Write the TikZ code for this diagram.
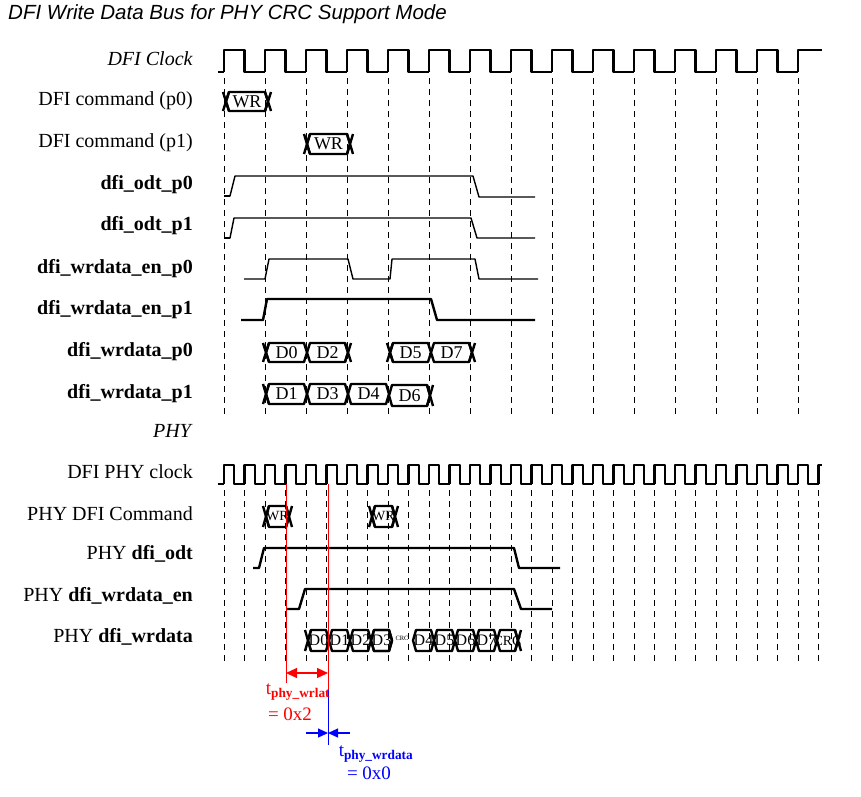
\documentclass[tikz,border=0pt]{standalone}
\usepackage{fontspec}
\setmainfont{Liberation Serif}
\newfontfamily\titlefont{Liberation Sans}
\usetikzlibrary{arrows.meta}
\newcommand{\busseg}[5]{%
  \draw[wave] (#1,{(#3+#4)/2})--(#1+3,#3)--(#2-3,#3)--(#2,{(#3+#4)/2})--(#2-3,#4)--(#1+3,#4)--cycle;
  \node[bus] at ({(#1+#2)/2},{(#3+#4)/2}) {#5};}
\newcommand{\busend}[3]{%
  \draw[wave] (#1,{(#2+#3)/2})--(#1-3,#2) (#1,{(#2+#3)/2})--(#1-3,#3)
    (#1,{(#2+#3)/2})--(#1+3,#2) (#1,{(#2+#3)/2})--(#1+3,#3);}
\begin{document}
\begin{tikzpicture}[x=1pt,y=-1pt,
  wave/.style={line width=2.4pt,line join=round},
  thinwave/.style={line width=1.4pt,line join=round},
  grid/.style={line width=0.7pt,dash pattern=on 6pt off 5pt},
  lbl/.style={anchor=east,font=\fontsize{20}{22}\selectfont,inner sep=0},
  bus/.style={font=\fontsize{18}{20}\selectfont,inner sep=0}]
\useasboundingbox (0,0) rectangle (861,796);
\node[anchor=west,font=\titlefont\itshape\fontsize{20.5}{22}\selectfont,inner sep=0] (title) at (8,14) {DFI Write Data Bus for PHY CRC Support Mode};
% labels
\node[lbl] (l1) at (193,59) {\textit{DFI Clock}};
\node[lbl] (l2) at (193,101) {DFI command (p0)};
\node[lbl] (l3) at (193,143) {DFI command (p1)};
\node[lbl] (l4) at (193,185) {\textbf{dfi\_odt\_p0}};
\node[lbl] (l5) at (193,226) {\textbf{dfi\_odt\_p1}};
\node[lbl] (l6) at (193,269) {\textbf{dfi\_wrdata\_en\_p0}};
\node[lbl] (l7) at (193,310) {\textbf{dfi\_wrdata\_en\_p1}};
\node[lbl] (l8) at (193,352) {\textbf{dfi\_wrdata\_p0}};
\node[lbl] (l9) at (193,394) {\textbf{dfi\_wrdata\_p1}};
\node[lbl] (l10) at (193,431) {\textit{PHY}};
\node[lbl] (l11) at (193,472) {DFI PHY clock};
\node[lbl] (l12) at (193,514) {PHY DFI Command};
\node[lbl] (l13) at (193,554) {PHY \textbf{dfi\_odt}};
\node[lbl] (l14) at (193,596) {PHY \textbf{dfi\_wrdata\_en}};
\node[lbl] (l15) at (193,637) {PHY \textbf{dfi\_wrdata}};
% grids
\foreach \k in {0,...,14} \draw[grid] (224+41*\k,78)--(224+41*\k,418);
\foreach \k in {0,...,29} \draw[grid] (224+20.5*\k,490)--(224+20.5*\k,665);
% DFI clock
\draw[wave] (218,72)--(224,72);
\foreach \k in {0,...,13} \draw[wave] (224+41*\k,72)--(224+41*\k,50)--(244.5+41*\k,50)--(244.5+41*\k,72)--(265+41*\k,72);
\draw[wave] (798,72)--(798,50)--(822,50);
% commands
\busseg{226}{268}{92}{111}{WR}\busend{226}{92}{111}\busend{268}{92}{111}
\busseg{307}{350}{134}{154}{WR}\busend{307}{134}{154}\busend{350}{134}{154}
% odt
\draw[thinwave] (224,196)--(230,196)--(235,176)--(473,176)--(479,197)--(535,197);
\draw[wave] (224,196)--(230,196);
\draw[thinwave] (224,238)--(230,238)--(234,218)--(471,218)--(477,238)--(535,238);
\draw[wave] (224,238)--(230,238);
\draw[thinwave] (244,279)--(265,279)--(269,259)--(348,259)--(353,279)--(390,279)--(392,259)--(475,259)--(479,279)--(538,279);
\draw[wave] (241,320)--(263,320)--(267,299)--(431,299)--(437,320)--(535,320);
% wrdata
\busseg{266}{307}{343}{362}{D0}\busseg{307}{348}{343}{362}{D2}
\busend{266}{343}{362}\busend{348}{343}{362}
\busseg{390}{431}{343}{362}{D5}\busseg{431}{472}{343}{362}{D7}
\busend{390}{343}{362}\busend{472}{343}{362}
\busseg{266}{307}{384}{404}{D1}\busseg{307}{348}{384}{404}{D3}
\busseg{348}{389}{384}{404}{D4}\busseg{389}{430}{385}{406}{D6}
\busend{266}{384}{404}\busend{430}{385}{406}
% PHY clock
\draw[wave] (218,484)--(224,484);
\foreach \k in {0,...,28} \draw[wave] (224+20.5*\k,484)--(224+20.5*\k,465)--(234.25+20.5*\k,465)--(234.25+20.5*\k,484)--(244.5+20.5*\k,484);
\draw[wave] (818.5,484)--(818.5,465)--(822,465);
% PHY cmd
\busseg{266}{289}{506}{527}{\fontsize{14}{15}\selectfont WR}\busend{266}{506}{527}\busend{289}{506}{527}
\busseg{372}{395}{506}{527}{\fontsize{14}{15}\selectfont WR}\busend{372}{506}{527}\busend{395}{506}{527}
% PHY odt / en
\draw[wave] (253,568)--(259,568)--(264,548)--(514,548)--(519,568)--(560,568);
\draw[wave] (286,609)--(299,609)--(305,589)--(514,589)--(521,609)--(552,609);
% PHY wrdata
\foreach \i/\t in {0/D0,1/D1,2/D2,3/D3,5/D4,6/D5,7/D6,8/D7}
  \busseg{308+21*\i}{329+21*\i}{630}{651}{\fontsize{16}{17}\selectfont\t};
\busseg{371}{392}{630}{651}{}
\node[inner sep=0,font=\fontsize{6.5}{7}\selectfont] at (402,638) {CRC};
\busseg{497}{518}{630}{651}{\fontsize{14}{15}\selectfont CRC}
\busend{308}{630}{651}\busend{518}{630}{651}
% timing markers
\coordinate (r1t) at (286,484); \coordinate (r1b) at (286,683);
\coordinate (r2t) at (328,484); \coordinate (r2b) at (328,690);
\coordinate (b2b) at (328,745);
\draw[red,line width=1pt] (r1t)--(r1b);
\draw[red,line width=1pt] (r2t)--(r2b);
\draw[blue,line width=1pt] (r2b)--(b2b);
\coordinate (a1) at (286,673); \coordinate (a2) at (328,673);
\draw[red,line width=1.2pt,{Triangle[length=11pt,width=10pt]}-{Triangle[length=11pt,width=10pt]}] (a1)--(a2);
\coordinate (bl) at (306,733); \coordinate (bm) at (328,733); \coordinate (br) at (350,733);
\draw[blue,line width=1.2pt,-{Triangle[length=10pt,width=9pt]}] (bl)--(bm);
\draw[blue,line width=1.2pt,-{Triangle[length=10pt,width=9pt]}] (br)--(bm);
\node[red,font=\fontsize{19}{21}\selectfont,inner sep=0] (tw) at (298,692) {t\textsubscript{\textbf{phy\_wrlat}}};
\node[red,font=\fontsize{19}{21}\selectfont,inner sep=0] (tw2) at (290,714) {= 0x2};
\node[blue,font=\fontsize{19}{21}\selectfont,inner sep=0] (td) at (376,754) {t\textsubscript{\textbf{phy\_wrdata}}};
\node[blue,font=\fontsize{19}{21}\selectfont,inner sep=0] (td2) at (369,773) {= 0x0};
\end{tikzpicture}
\end{document}
